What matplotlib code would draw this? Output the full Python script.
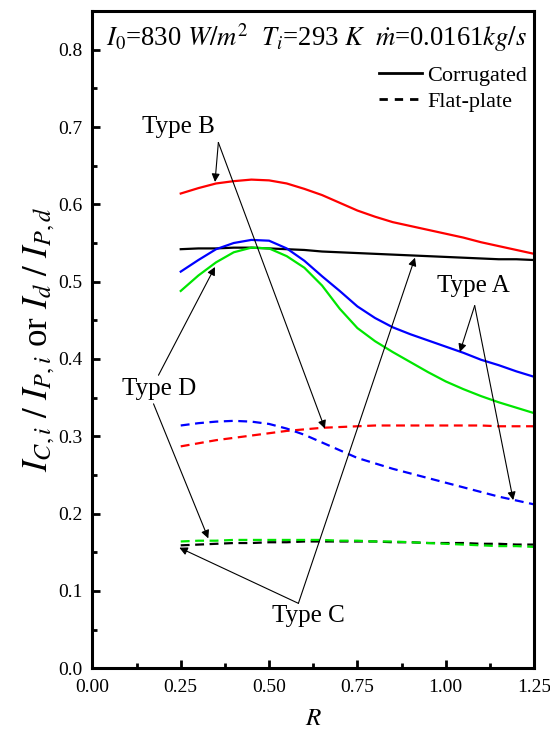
import matplotlib
matplotlib.use("Agg")
import matplotlib.pyplot as plt
from matplotlib.lines import Line2D
from matplotlib.ticker import MultipleLocator, FormatStrFormatter

plt.rcParams['font.family'] = ['Liberation Serif', 'DejaVu Serif']
plt.rcParams['mathtext.fontset'] = 'stix'

R = [0.25, 0.30, 0.35, 0.40, 0.45, 0.50, 0.55, 0.60, 0.65, 0.70, 0.75,
     0.80, 0.85, 0.90, 0.95, 1.00, 1.05, 1.10, 1.15, 1.20, 1.25]

# Corrugated (solid)
red_corr = [0.614, 0.621, 0.627, 0.630, 0.632, 0.631, 0.627, 0.620, 0.612, 0.602, 0.592,
            0.584, 0.577, 0.572, 0.567, 0.562, 0.557, 0.551, 0.546, 0.541, 0.536]
black_corr = [0.542, 0.543, 0.543, 0.544, 0.544, 0.543, 0.542, 0.541, 0.539, 0.538, 0.537,
              0.536, 0.535, 0.534, 0.533, 0.532, 0.531, 0.530, 0.529, 0.529, 0.528]
blue_corr = [0.513, 0.528, 0.542, 0.550, 0.554, 0.553, 0.543, 0.527, 0.507, 0.488, 0.468,
             0.453, 0.441, 0.432, 0.424, 0.416, 0.408, 0.399, 0.392, 0.384, 0.377]
green_corr = [0.488, 0.508, 0.525, 0.538, 0.544, 0.543, 0.533, 0.518, 0.495, 0.465, 0.440,
              0.423, 0.409, 0.396, 0.383, 0.371, 0.361, 0.352, 0.344, 0.337, 0.330]

# Flat-plate (dashed)
red_flat = [0.287, 0.291, 0.295, 0.298, 0.301, 0.304, 0.307, 0.309, 0.311, 0.312, 0.313,
            0.314, 0.314, 0.314, 0.314, 0.314, 0.314, 0.314, 0.313, 0.313, 0.313]
blue_flat = [0.314, 0.317, 0.319, 0.320, 0.319, 0.316, 0.310, 0.302, 0.292, 0.282, 0.272,
             0.265, 0.258, 0.252, 0.246, 0.240, 0.234, 0.228, 0.222, 0.217, 0.212]
green_flat = [0.164, 0.165, 0.165, 0.166, 0.166, 0.166, 0.166, 0.166, 0.166, 0.165, 0.165,
              0.164, 0.164, 0.163, 0.162, 0.161, 0.160, 0.159, 0.158, 0.158, 0.157]
black_flat = [0.159, 0.160, 0.161, 0.162, 0.162, 0.163, 0.163, 0.164, 0.164, 0.164, 0.164,
              0.164, 0.163, 0.163, 0.162, 0.162, 0.162, 0.161, 0.161, 0.160, 0.160]

RED, BLUE, GREEN, BLACK = '#ff0000', '#0000ff', '#00e600', '#000000'

fig = plt.figure(figsize=(5.5, 7.36), dpi=100)
ax = fig.add_axes([0.168, 0.092, 0.803, 0.893])

lw = 1.6
dash = (4, 2.5)
ax.plot(R, red_corr, color=RED, lw=lw)
ax.plot(R, black_corr, color=BLACK, lw=lw)
ax.plot(R, blue_corr, color=BLUE, lw=lw)
ax.plot(R, green_corr, color=GREEN, lw=lw)
ax.plot(R, red_flat, color=RED, lw=lw, dashes=dash)
ax.plot(R, blue_flat, color=BLUE, lw=lw, dashes=dash)
ax.plot(R, black_flat, color=BLACK, lw=lw, dashes=dash)
ax.plot(R, green_flat, color=GREEN, lw=lw, dashes=dash)

ax.set_xlim(0, 1.25)
ax.set_ylim(0, 0.85)
ax.xaxis.set_major_locator(MultipleLocator(0.25))
ax.xaxis.set_minor_locator(MultipleLocator(0.125))
ax.yaxis.set_major_locator(MultipleLocator(0.1))
ax.yaxis.set_minor_locator(MultipleLocator(0.05))
ax.xaxis.set_major_formatter(FormatStrFormatter('%.2f'))
ax.yaxis.set_major_formatter(FormatStrFormatter('%.1f'))
ax.tick_params(which='both', direction='in', width=2, labelsize=14)
ax.tick_params(axis='x', pad=8)
ax.tick_params(axis='y', pad=7)
ax.tick_params(which='major', length=6)
ax.tick_params(which='minor', length=3.5)
for s in ax.spines.values():
    s.set_linewidth(2.2)

ax.set_xlabel('$R$', fontsize=18, labelpad=8)
ax.set_ylabel(r'$I_{C,i}\ /\ I_{P,i}$ or $I_d\ /\ I_{P,d}$', fontsize=25, labelpad=1)

ax.text(0.030, 0.985, r'$I_\mathit{0}$=830 $W/m^2$  $T_i$=293 $K$  $\dot{m}$=0.0161$kg/s$',
        transform=ax.transAxes, fontsize=19.2, va='top', ha='left')

handles = [Line2D([], [], color='black', lw=2),
           Line2D([], [], color='black', lw=2, dashes=(3, 2.5))]
ax.legend(handles, ['Corrugated', 'Flat-plate'], loc='upper right',
          bbox_to_anchor=(0.985, 0.917), frameon=False, fontsize=16,
          handlelength=1.95, handletextpad=0.25, labelspacing=0.22, borderpad=0,
          borderaxespad=0)

arrow = dict(arrowstyle='-|>', color='black', lw=0.8, mutation_scale=12,
             shrinkA=0, shrinkB=0)

def label(text, pos, vertices_targets):
    ax.text(pos[0], pos[1], text, fontsize=18, ha='center', va='center')
    for v, t in vertices_targets:
        ax.annotate('', xy=t, xytext=v, arrowprops=arrow)

label('Type B', (0.2425, 0.700), [((0.3565, 0.680), (0.347, 0.629)),
                                  ((0.3565, 0.680), (0.658, 0.310))])
label('Type A', (1.077, 0.494), [((1.082, 0.469), (1.040, 0.409)),
                                 ((1.082, 0.469), (1.191, 0.2175))])
label('Type D', (0.189, 0.361), [((0.187, 0.379), (0.347, 0.519)),
                                 ((0.173, 0.342), (0.328, 0.168))])
label('Type C', (0.612, 0.068), [((0.583, 0.084), (0.246, 0.156)),
                                 ((0.583, 0.084), (0.913, 0.531))])

fig.savefig('out.png', dpi=100)
